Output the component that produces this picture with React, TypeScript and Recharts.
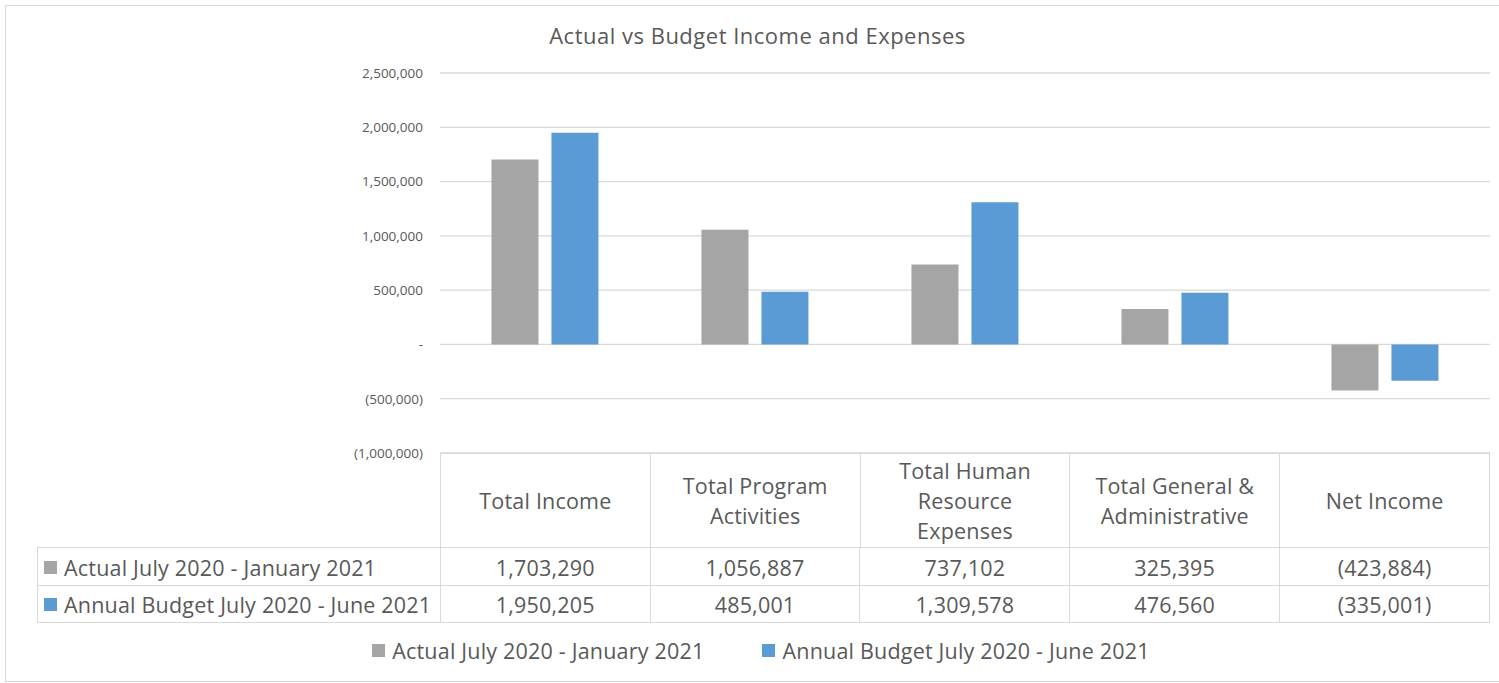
import React from 'react';
import { BarChart, Bar, XAxis, YAxis, CartesianGrid } from 'recharts';

const categories = [
  'Total Income',
  'Total Program Activities',
  'Total Human Resource Expenses',
  'Total General & Administrative',
  'Net Income',
];
const actual = [1703290, 1056887, 737102, 325395, -423884];
const budget = [1950205, 485001, 1309578, 476560, -335001];
const seriesNames = ['Actual July 2020 - January 2021', 'Annual Budget July 2020 - June 2021'];
const seriesColors = ['#a5a5a5', '#5b9bd5'];
const yTicks = [-1000000, -500000, 0, 500000, 1000000, 1500000, 2000000, 2500000];

const data = categories.map((name, i) => ({ name, actual: actual[i], budget: budget[i] }));
const seriesValues = [actual, budget];

const FONT = '"Open Sans", sans-serif';
const TEXT = '#595959';
const LINE = '#d9d9d9';

// plot box
const PLOT_LEFT = 440;
const PLOT_RIGHT = 1490;
const PLOT_TOP = 73;
const PLOT_BOTTOM = 453;
const COL_W = (PLOT_RIGHT - PLOT_LEFT) / categories.length;

const fmt = (v: number) => {
  if (v === 0) return '-';
  const s = Math.abs(v).toLocaleString('en-US');
  return v < 0 ? `(${s})` : s;
};

const App = () => {
  return (
    <div
      style={{
        position: 'absolute',
        left: 0,
        top: 0,
        width: 1499,
        height: 683,
        background: '#fff',
        fontFamily: FONT,
        color: TEXT,
        overflow: 'hidden',
      }}
    >
      <div
        style={{
          position: 'absolute',
          left: 5,
          top: 5,
          width: 1500,
          height: 675,
          border: `1px solid ${LINE}`,
        }}
      />
      <div
        style={{
          position: 'absolute',
          left: 0,
          width: 1515,
          top: 20,
          textAlign: 'center',
          fontSize: 22,
          letterSpacing: 0.5,
          color: TEXT,
        }}
      >
        Actual vs Budget Income and Expenses
      </div>
      <div style={{ position: 'absolute', left: 0, top: 0 }}>
        <BarChart
          width={1499}
          height={683}
          data={data}
          margin={{ top: PLOT_TOP, right: 1499 - PLOT_RIGHT, bottom: 683 - PLOT_BOTTOM, left: 350 }}
          barCategoryGap="24.5%"
          barGap={13}
        >
          <CartesianGrid vertical={false} stroke={LINE} strokeWidth={1.3} />
          <XAxis dataKey="name" hide />
          <YAxis
            width={90}
            domain={[-1000000, 2500000]}
            ticks={yTicks}
            tickFormatter={fmt}
            axisLine={false}
            tickLine={false}
            tickSize={0}
            tickMargin={17}
            tick={{ fill: TEXT, fontSize: 13.5, fontFamily: FONT }}
          />
          <Bar dataKey="actual" fill={seriesColors[0]} isAnimationActive={false} />
          <Bar dataKey="budget" fill={seriesColors[1]} isAnimationActive={false} />
        </BarChart>
      </div>

      {/* data table: header row */}
      <div
        style={{
          position: 'absolute',
          left: PLOT_LEFT,
          top: PLOT_BOTTOM,
          width: PLOT_RIGHT - PLOT_LEFT,
          height: 94,
          display: 'flex',
          borderTop: `1px solid ${LINE}`,
          borderLeft: `1px solid ${LINE}`,
          boxSizing: 'border-box',
        }}
      >
        {categories.map((c) => (
          <div
            key={c}
            style={{
              width: COL_W,
              boxSizing: 'border-box',
              borderRight: `1px solid ${LINE}`,
              display: 'flex',
              alignItems: 'center',
              justifyContent: 'center',
              textAlign: 'center',
              fontSize: 21.5,
              letterSpacing: 0.2,
              lineHeight: '30px',
              padding: '0 16px',
            }}
          >
            {c}
          </div>
        ))}
      </div>

      {/* data table: series rows */}
      {seriesNames.map((s, r) => (
        <div
          key={s}
          style={{
            position: 'absolute',
            left: 37,
            top: 547 + r * 38,
            width: PLOT_RIGHT - 37,
            height: r === 0 ? 39 : 38,
            display: 'flex',
            boxSizing: 'border-box',
            borderTop: `1px solid ${LINE}`,
            borderBottom: r === seriesNames.length - 1 ? `1px solid ${LINE}` : undefined,
            borderLeft: `1px solid ${LINE}`,
            fontSize: 21.5,
            letterSpacing: 0.2,
          }}
        >
          <div
            style={{
              width: PLOT_LEFT - 37,
              boxSizing: 'border-box',
              borderRight: `1px solid ${LINE}`,
              display: 'flex',
              alignItems: 'center',
              paddingLeft: 6,
              whiteSpace: 'nowrap',
            }}
          >
            <span
              style={{ width: 13, height: 13, background: seriesColors[r], marginRight: 7, flexShrink: 0 }}
            />
            {s}
          </div>
          {seriesValues[r].map((v, i) => (
            <div
              key={i}
              style={{
                width: COL_W,
                boxSizing: 'border-box',
                borderRight: `1px solid ${LINE}`,
                display: 'flex',
                alignItems: 'center',
                justifyContent: 'center',
              }}
            >
              {fmt(v)}
            </div>
          ))}
        </div>
      ))}

      {/* legend */}
      <div
        style={{
          position: 'absolute',
          left: 0,
          width: 1522,
          top: 636,
          display: 'flex',
          justifyContent: 'center',
          fontSize: 21.5,
          letterSpacing: 0.2,
          gap: 58,
        }}
      >
        {seriesNames.map((s, i) => (
          <div key={s} style={{ display: 'flex', alignItems: 'center', whiteSpace: 'nowrap' }}>
            <span style={{ width: 13, height: 13, background: seriesColors[i], marginRight: 7 }} />
            {s}
          </div>
        ))}
      </div>
    </div>
  );
};

export default App;
